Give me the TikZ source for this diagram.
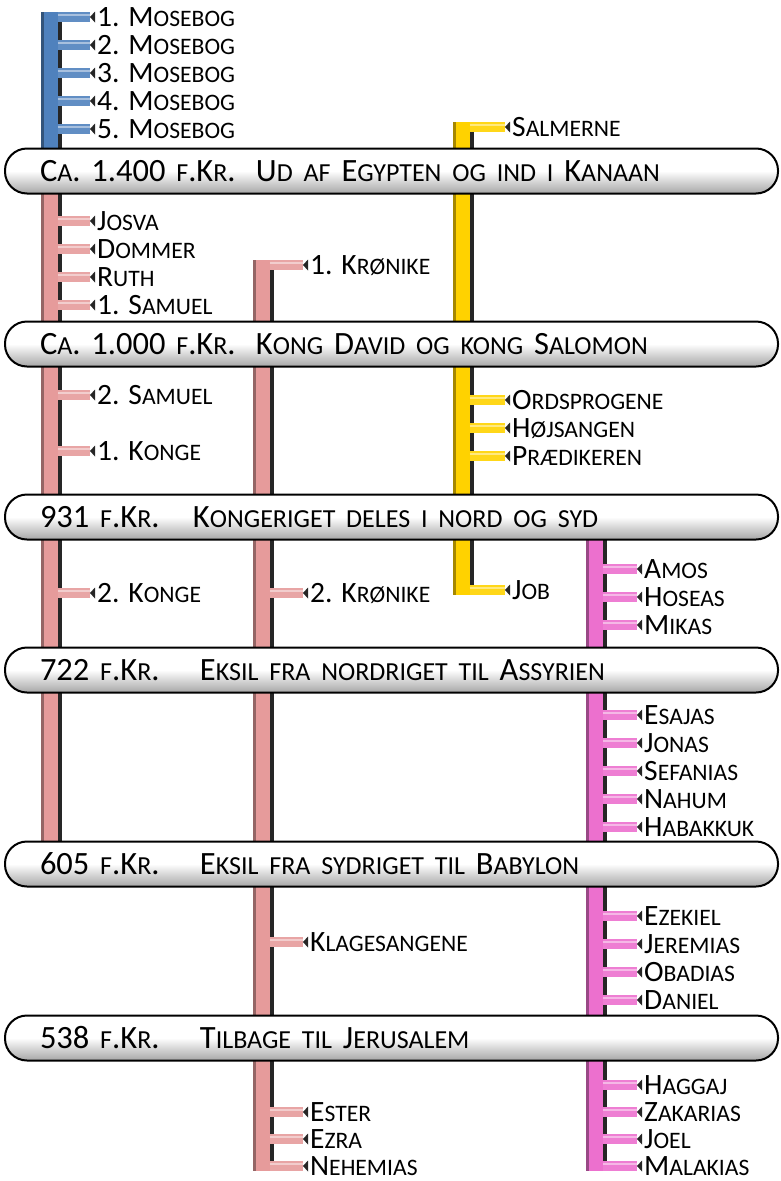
\documentclass[tikz,border=0pt]{standalone}
\usepackage{fontspec}
\setmainfont{Carlito}
\usetikzlibrary{arrows.meta}

\definecolor{moseblue}{RGB}{79,129,189}
\definecolor{rosebar}{RGB}{230,155,155}
\definecolor{goldbar}{RGB}{255,210,0}
\definecolor{magbar}{RGB}{236,112,206}

% small capitals by hand
\makeatletter
\newcommand\sk[1]{{\fontsize{\fpeval{0.8*\f@size}}{\f@baselineskip}\selectfont #1}}
\makeatother

\tikzset{
  stem/.style={line width=17pt, draw=#1,
    postaction={draw=#1!65!black, line width=3pt, transform canvas={xshift=-7pt}},
    postaction={draw=black!85, line width=4.5pt, transform canvas={xshift=10.75pt}}},
  twig/.style={line width=10pt, draw=#1!90!white,
    -{Triangle[reversed, length=5pt, width=11pt, line width=0pt, color=black!85]},
    postaction={draw=white, draw opacity=.45, line width=2.5pt, -, shorten >=5pt,
      transform canvas={yshift=2pt}}},
  lbl/.style={anchor=west, inner xsep=2pt, inner ysep=0pt, text height=18.5pt, text depth=0pt,
    font=\fontsize{29.5}{29.5}\selectfont},
  era/.style={draw=black, line width=2pt, rounded corners=22pt,
    top color=white, bottom color=black!35, middle color=white,
    text width=703pt, inner xsep=35pt, inner ysep=0pt, minimum height=45pt, align=left,
    text height=21pt, text depth=0pt, font=\fontsize{32.5}{32.5}\selectfont\frenchspacing}
}

\begin{document}
\begin{tikzpicture}[x=1pt, y=-1pt]
  \useasboundingbox (0,0) rectangle (781,1181);
  % stems
  \draw[stem=moseblue] (49,12) -- (49,171);
  \draw[stem=rosebar] (49,171) -- (49,864);
  \draw[stem=rosebar] (261,260) -- (261,1171);
  \draw[stem=goldbar] (461,122) -- (461,595);
  \draw[stem=magbar] (594,517) -- (594,1171);
  \coordinate (bl) at (57.5,0);
  \coordinate (rl) at (57.5,0);
  \coordinate (rk) at (269.5,0);
  \coordinate (gs) at (469.5,0);
  \coordinate (mp) at (602.5,0);

  % time line
  \node[era] (e1) at (391.5,171) {\makebox[216pt][l]{C\sk{A}. 1.400 \sk{F}.K\sk{R}.}U\sk{D AF} E\sk{GYPTEN OG IND I} K\sk{ANAAN}};
  \node[era] (e2) at (391.5,344) {\makebox[216pt][l]{C\sk{A}. 1.000 \sk{F}.K\sk{R}.}K\sk{ONG} D\sk{AVID OG KONG} S\sk{ALOMON}};
  \node[era] (e3) at (391.5,517) {\makebox[153pt][l]{931 \sk{F}.K\sk{R}.}K\sk{ONGERIGET DELES I NORD OG SYD}};
  \node[era] (e4) at (391.5,670) {\makebox[160pt][l]{722 \sk{F}.K\sk{R}.}E\sk{KSIL FRA NORDRIGET TIL} A\sk{SSYRIEN}};
  \node[era] (e5) at (391.5,864) {\makebox[160pt][l]{605 \sk{F}.K\sk{R}.}E\sk{KSIL FRA SYDRIGET TIL} B\sk{ABYLON}};
  \node[era] (e6) at (391.5,1038) {\makebox[160pt][l]{538 \sk{F}.K\sk{R}.}T\sk{ILBAGE TIL} J\sk{ERUSALEM}};

  % books
  \foreach \n/\y/\t in {m1/17/1. M\sk{OSEBOG}, m2/45/2. M\sk{OSEBOG}, m3/73/3. M\sk{OSEBOG},
      m4/101/4. M\sk{OSEBOG}, m5/129/5. M\sk{OSEBOG}}{
    \node[lbl] (\n) at (95,\y) {\t};
    \draw[twig=moseblue] (bl |- \n.west) -- (\n.west);
  }
  \foreach \n/\y/\t in {jos/221/J\sk{OSVA}, dom/249/D\sk{OMMER}, rut/277/R\sk{UTH}, sa1/305/1. S\sk{AMUEL},
      sa2/395/2. S\sk{AMUEL}, ko1/451/1. K\sk{ONGE}, ko2/593/2. K\sk{ONGE}}{
    \node[lbl] (\n) at (95,\y) {\t};
    \draw[twig=rosebar] (rl |- \n.west) -- (\n.west);
  }
  \foreach \n/\y/\t in {kr1/265/1. K\sk{RØNIKE}, kr2/593/2. K\sk{RØNIKE}, kla/942/K\sk{LAGESANGENE},
      est/1112/E\sk{STER}, ezr/1139/E\sk{ZRA}, neh/1166/N\sk{EHEMIAS}}{
    \node[lbl] (\n) at (308,\y) {\t};
    \draw[twig=rosebar] (rk |- \n.west) -- (\n.west);
  }
  \foreach \n/\y/\t in {sal/127/S\sk{ALMERNE}, ord/400/O\sk{RDSPROGENE}, hoj/428/H\sk{ØJSANGEN},
      pra/456/P\sk{RÆDIKEREN}, job/590/J\sk{OB}}{
    \node[lbl] (\n) at (510,\y) {\t};
    \draw[twig=goldbar] (gs |- \n.west) -- (\n.west);
  }
  \foreach \n/\y/\t in {amo/569/A\sk{MOS}, hos/597/H\sk{OSEAS}, mik/625/M\sk{IKAS},
      esa/715/E\sk{SAJAS}, jon/743/J\sk{ONAS}, sef/771/S\sk{EFANIAS}, nah/799/N\sk{AHUM}, hab/827/H\sk{ABAKKUK},
      eze/916/E\sk{ZEKIEL}, jer/944/J\sk{EREMIAS}, oba/972/O\sk{BADIAS}, dan/1000/D\sk{ANIEL},
      hag/1085/H\sk{AGGAJ}, zak/1112/Z\sk{AKARIAS}, joe/1139/J\sk{OEL}, mal/1166/M\sk{ALAKIAS}}{
    \node[lbl] (\n) at (642,\y) {\t};
    \draw[twig=magbar] (mp |- \n.west) -- (\n.west);
  }
\end{tikzpicture}
\end{document}
